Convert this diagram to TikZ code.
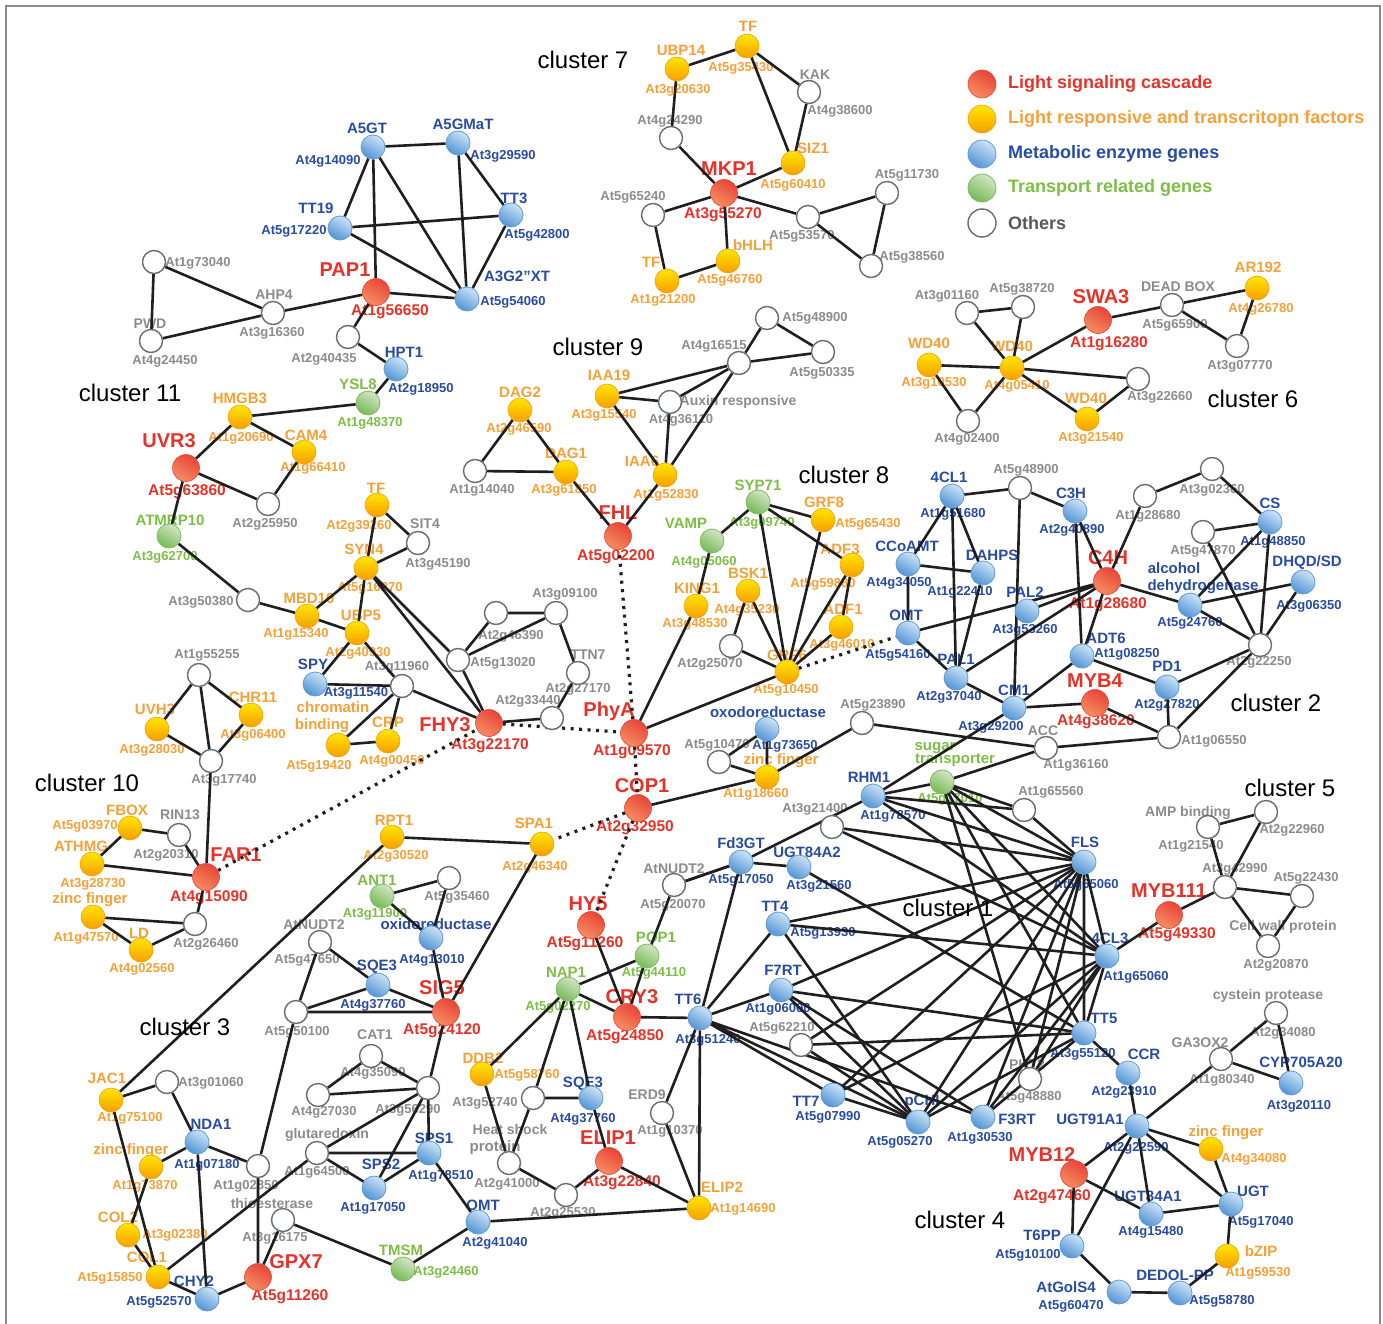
\documentclass[tikz,border=0pt]{standalone}
\usepackage{fontspec}
\setmainfont{Liberation Sans}
\usepackage{tikz}
\usepackage{color}

\definecolor{sigtxt}{RGB}{232,50,40}
\definecolor{lrftxt}{RGB}{247,160,55}
\definecolor{mettxt}{RGB}{40,75,165}
\definecolor{trptxt}{RGB}{125,190,70}
\definecolor{othtxt}{RGB}{140,140,140}
\definecolor{sigtop}{RGB}{232,68,56}
\definecolor{sigbot}{RGB}{246,142,98}
\definecolor{lrftop}{RGB}{255,230,0}
\definecolor{lrfbot}{RGB}{246,158,0}
\definecolor{mettop}{RGB}{205,228,247}
\definecolor{metbot}{RGB}{82,148,212}
\definecolor{metrim}{RGB}{95,155,215}
\definecolor{trptop}{RGB}{210,230,198}
\definecolor{trpbot}{RGB}{118,186,84}
\definecolor{trprim}{RGB}{130,185,100}
\definecolor{othrim}{RGB}{100,110,115}

\pgfdeclarelayer{bg}
\pgfdeclarelayer{lbl}
\pgfdeclarelayer{edg}
\pgfsetlayers{bg,lbl,edg,main}

% node with name and id
\newcommand{\gene}[7]{%
  \node[#1] (#2) at (#3) {};
  \begin{pgfonlayer}{lbl}
    \node[#1 nm] at (#4) {#5};
    \node[#1 id] at (#6) {#7};
  \end{pgfonlayer}}
% node with id only
\newcommand{\gid}[5]{%
  \node[#1] (#2) at (#3) {};
  \begin{pgfonlayer}{lbl}
    \node[#1 id] at (#4) {#5};
  \end{pgfonlayer}}

\begin{document}
\begin{tikzpicture}[x=1pt,y=-1pt,
  every node/.style={inner sep=0pt},
  sig/.style={circle,minimum size=27pt,draw=sigtop,line width=0.6pt,top color=sigtop,bottom color=sigbot,shading angle=-30},
  lrf/.style={circle,minimum size=24pt,draw=lrfbot,line width=0.6pt,top color=lrftop,bottom color=lrfbot},
  met/.style={circle,minimum size=24pt,draw=metrim,line width=0.8pt,top color=mettop,bottom color=metbot,shading angle=-30},
  trp/.style={circle,minimum size=24pt,draw=trprim,line width=0.8pt,top color=trptop,bottom color=trpbot,shading angle=-30},
  oth/.style={circle,minimum size=23pt,draw=othrim,line width=1.4pt,fill=white},
  sig nm/.style={text=sigtxt,font=\fontsize{20}{22}\selectfont\bfseries},
  sig id/.style={text=sigtxt,font=\fontsize{15.5}{17}\selectfont\bfseries},
  lrf nm/.style={text=lrftxt,font=\fontsize{15}{17}\selectfont\bfseries},
  lrf id/.style={text=lrftxt,font=\fontsize{13}{15}\selectfont\bfseries},
  met nm/.style={text=mettxt,font=\fontsize{15}{17}\selectfont\bfseries},
  met id/.style={text=mettxt,font=\fontsize{13}{15}\selectfont\bfseries},
  trp nm/.style={text=trptxt,font=\fontsize{15}{17}\selectfont\bfseries},
  trp id/.style={text=trptxt,font=\fontsize{13}{15}\selectfont\bfseries},
  oth nm/.style={text=othtxt,font=\fontsize{14}{16}\selectfont\bfseries},
  oth id/.style={text=othtxt,font=\fontsize{13}{15}\selectfont\bfseries},
  clus/.style={font=\fontsize{24}{26}\selectfont},
  legtxt/.style={anchor=west,font=\fontsize{18}{20}\selectfont\bfseries},
  lnk/.style={line width=2.6pt,draw=black!88},
  dotlnk/.style={line width=3.2pt,draw=black!88,dash pattern=on 3pt off 5.5pt}]

\useasboundingbox (0,0) rectangle (1383,1324);
\begin{pgfonlayer}{bg}
\fill[white] (0,0) rectangle (1383,1324);
\draw[black!45,line width=1.3pt] (6,1324) -- (6,6) -- (1380,6) -- (1380,1324);
\end{pgfonlayer}

%% legend
\node[sig,minimum size=28pt] (lg1) at (982,84) {};
\node[lrf,minimum size=28pt] (lg2) at (982,119) {};
\node[met,minimum size=28pt] (lg3) at (982,154) {};
\node[trp,minimum size=28pt] (lg4) at (982,188) {};
\node[oth,minimum size=28pt] (lg5) at (982,223) {};
\node[legtxt,text=sigtxt] at (1008,84) {Light signaling cascade};
\node[legtxt,text=lrftxt] at (1008,119) {Light responsive and transcritopn factors};
\node[legtxt,text=mettxt] at (1008,154) {Metabolic enzyme genes};
\node[legtxt,text=trptxt] at (1008,188) {Transport related genes};
\node[legtxt,text=black!65] at (1008,223) {Others};

%% cluster labels
\node[clus] (c1) at (948,908) {cluster 1};
\node[clus] (c2) at (1276,703) {cluster 2};
\node[clus] (c3) at (185,1027) {cluster 3};
\node[clus] (c4) at (960,1220) {cluster 4};
\node[clus] (c5) at (1290,788) {cluster 5};
\node[clus] (c6) at (1253,399) {cluster 6};
\node[clus] (c7) at (583,60) {cluster 7};
\node[clus] (c8) at (844,475) {cluster 8};
\node[clus] (c9) at (598,347) {cluster 9};
\node[clus] (c10) at (87,783) {cluster 10};
\node[clus] (c11) at (130,393) {cluster 11};

%% anthocyanin group
\gene{met}{a5gt}{373,147}{367,128}{A5GT}{328,161}{At4g14090}
\gene{met}{a5gmat}{458,143}{463,124}{A5GMaT}{503,156}{At3g29590}
\gene{met}{tt19}{340,228}{316,208}{TT19}{294,231}{At5g17220}
\gene{met}{tt3}{511,215}{514,198}{TT3}{537,235}{At5g42800}
\gene{met}{a3g2xt}{467,299}{517,276}{A3G2”XT}{513,302}{At5g54060}
\gene{sig}{pap1}{376,292}{345,270}{PAP1}{390,312}{At1g56650}
\gid{oth}{g73040}{154,262}{198,263}{At1g73040}
\gene{oth}{pwd}{151,341}{150,324}{PWD}{165,361}{At4g24450}
\gene{oth}{ahp4}{273,313}{274,295}{AHP4}{272,333}{At3g16360}
\gid{oth}{g40435}{348,337}{324,359}{At2g40435}
\gene{met}{hpt1}{396,369}{404,352}{HPT1}{421,389}{At2g18950}
\gene{trp}{ysl8}{368,403}{358,384}{YSL8}{370,423}{At1g48370}

%% cluster 7
\gene{lrf}{ubp14}{677,69}{681,50}{UBP14}{678,90}{At3g20630}
\gene{lrf}{tfa}{747,46}{748,26}{TF}{741,68}{At5g35430}
\gene{oth}{kak}{809,92}{815,75}{KAK}{840,111}{At4g38600}
\gid{oth}{g24290}{671,138}{670,121}{At4g24290}
\gene{lrf}{siz1}{793,163}{813,148}{SIZ1}{793,185}{At5g60410}
\gene{sig}{mkp1}{724,193}{729,169}{MKP1}{723,215}{At3g55270}
\gid{oth}{g65240}{653,215}{633,197}{At5g65240}
\gid{oth}{g53570}{808,217}{802,236}{At5g53570}
\gid{oth}{g11730}{887,193}{907,175}{At5g11730}
\gid{oth}{g38560}{871,266}{912,257}{At5g38560}
\gene{lrf}{bhlh}{728,261}{753,245}{bHLH}{730,280}{At5g46760}
\gene{lrf}{tfb}{667,281}{651,262}{TF}{663,300}{At1g21200}

%% cluster 9
\gid{oth}{g48900}{767,318}{815,318}{At5g48900}
\gid{oth}{g16515}{739,363}{714,346}{At4g16515}
\gid{oth}{g50335}{823,352}{822,373}{At5g50335}
\gene{lrf}{iaa19}{607,396}{609,375}{IAA19}{604,415}{At3g15540}
\gene{oth}{auxin}{670,402}{738,402}{Auxin responsive}{681,420}{At4g36110}
\gene{lrf}{dag2}{520,410}{520,392}{DAG2}{519,429}{At2g46590}
\gid{oth}{g14040}{475,471}{482,490}{At1g14040}
\gene{lrf}{dag1}{566,472}{566,453}{DAG1}{564,490}{At3g61850}
\gene{lrf}{iaa6}{665,475}{642,461}{IAA6}{666,495}{At1g52830}
\gene{sig}{fhl}{618,536}{618,513}{FHL}{616,557}{At5g02200}

%% cluster 6
\gid{oth}{g01160}{967,313}{947,296}{At3g01160}
\gid{oth}{g38720}{1023,307}{1022,289}{At5g38720}
\gene{sig}{swa3}{1098,320}{1101,297}{SWA3}{1109,344}{At1g16280}
\gene{oth}{deadbox}{1172,305}{1178,287}{DEAD BOX}{1175,325}{At5g65900}
\gene{lrf}{ar192}{1257,288}{1258,267}{AR192}{1261,309}{At4g26780}
\gid{oth}{g07770}{1237,346}{1240,366}{At3g07770}
\gene{lrf}{wda}{929,365}{929,343}{WD40}{934,383}{At3g10530}
\gene{lrf}{wdb}{1012,368}{1012,346}{WD40}{1017,386}{At4g05410}
\gid{oth}{g02400}{968,421}{967,439}{At4g02400}
\gene{lrf}{wdc}{1087,419}{1086,398}{WD40}{1091,438}{At3g21540}
\gid{oth}{g22660}{1138,379}{1160,397}{At3g22660}

%% cluster 2
\gid{oth}{g48900b}{1020,488}{1026,470}{At5g48900}
\gene{met}{cl1}{952,496}{949,477}{4CL1}{953,514}{At1g51680}
\gene{met}{c3h}{1075,511}{1071,493}{C3H}{1072,530}{At2g40890}
\gid{oth}{g28680}{1145,496}{1148,516}{At1g28680}
\gid{oth}{g02360}{1212,469}{1212,490}{At3g02360}
\gene{met}{cs}{1270,522}{1270,503}{CS}{1273,542}{At1g48850}
\gid{oth}{g47870}{1203,532}{1203,551}{At5g47870}
\gene{sig}{c4h}{1107,581}{1108,558}{C4H}{1108,605}{At1g28680}
\gene{met}{dahps}{983,573}{992,555}{DAHPS}{960,592}{At1g22410}
\gene{met}{ccoamt}{908,564}{907,546}{CCoAMT}{899,583}{At4g34050}
\gene{met}{adh}{1190,605}{1174,568}{alcohol}{1190,623}{At5g24760}
\gene{met}{dhqd}{1303,582}{1307,563}{DHQD/SD}{1309,606}{At3g06350}
\gene{met}{pal2}{1027,611}{1025,592}{PAL2}{1025,630}{At3g53260}
\gene{met}{adt6}{1082,656}{1106,638}{ADT6}{1127,654}{At1g08250}
\gid{oth}{g22250}{1260,645}{1259,662}{At2g22250}
\gene{met}{omtb}{908,633}{906,615}{OMT}{898,655}{At5g54160}
\gene{met}{pal1}{956,678}{956,659}{PAL1}{949,697}{At2g37040}
\gene{met}{cm1}{1014,708}{1014,690}{CM1}{991,727}{At3g29200}
\gene{sig}{myb4}{1095,703}{1095,681}{MYB4}{1096,722}{At4g38620}
\gene{met}{pd1}{1167,687}{1167,666}{PD1}{1167,705}{At2g27820}
\gid{oth}{g06550}{1169,737}{1214,741}{At1g06550}
\gene{oth}{acc}{1046,748}{1043,731}{ACC}{1076,765}{At1g36160}

%% cluster 8
\gene{trp}{syp71}{758,502}{758,485}{SYP71}{762,523}{At3g09740}
\gene{trp}{vamp}{712,541}{686,523}{VAMP}{704,562}{At4g05060}
\gene{lrf}{grf8}{823,520}{824,502}{GRF8}{868,524}{At5g65430}
\gene{lrf}{adf3}{852,565}{840,549}{ADF3}{823,584}{At5g59880}
\gene{lrf}{bsk1}{748,591}{748,573}{BSK1}{747,610}{At4g35230}
\gene{lrf}{king1}{696,606}{697,588}{KING1}{695,624}{At3g48530}
\gene{lrf}{adf1}{841,627}{843,609}{ADF1}{842,645}{At3g46010}
\gid{oth}{g25070}{731,646}{710,664}{At2g25070}
\gene{lrf}{grf6}{787,672}{787,655}{GRF6}{786,690}{At5g10450}
\gene{met}{oxo}{767,729}{768,712}{oxodoreductase}{785,746}{At1g73650}
\gid{oth}{g10470}{719,762}{717,745}{At5g10470}
\gene{lrf}{zfa}{767,777}{781,761}{zinc finger}{756,794}{At1g18660}
\gid{oth}{g23890}{862,723}{873,705}{At5g23890}

%% light signaling core
\gid{oth}{g09100}{556,613}{565,594}{At3g09100}
\gid{oth}{g46390}{496,613}{511,636}{At2g46390}
\gid{oth}{g13020}{458,660}{503,663}{At5g13020}
\gene{oth}{ttn7}{578,673}{588,655}{TTN7}{578,689}{At2g27170}
\gid{oth}{g33440}{552,718}{528,701}{At2g33440}
\gene{sig}{fhy3}{489,723}{445,725}{FHY3}{490,746}{At3g22170}
\gene{sig}{phya}{634,733}{609,711}{PhyA}{632,752}{At1g09570}
\gene{sig}{cop1}{638,808}{642,786}{COP1}{635,828}{At2g32950}
\gene{lrf}{spa1}{542,844}{534,823}{SPA1}{535,867}{At2g46340}
\gene{sig}{hy5}{591,925}{588,904}{HY5}{585,944}{At5g11260}

%% cluster 1
\gene{met}{rhm1}{873,796}{869,777}{RHM1}{893,816}{At1g78570}
\gid{oth}{g21400}{832,827}{815,809}{At3g21400}
\gene{trp}{sugar}{942,782}{935,748}{sugar}{950,799}{At5g17010}
\gid{oth}{g65560}{1024,810}{1051,792}{At1g65560}
\gene{met}{fd3gt}{741,862}{741,843}{Fd3GT}{741,880}{At5g17050}
\gene{met}{ugt84a2}{799,867}{807,852}{UGT84A2}{819,886}{At3g21560}
\gene{oth}{nudt2b}{674,885}{674,869}{AtNUDT2}{673,905}{At5g20070}
\gene{met}{tt4}{778,924}{775,906}{TT4}{823,933}{At5g13930}
\gene{met}{fls}{1084,862}{1085,842}{FLS}{1086,885}{At5g65060}
\gene{met}{cl3}{1107,956}{1110,938}{4CL3}{1136,977}{At1g65060}
\gene{met}{f7rt}{781,990}{783,970}{F7RT}{778,1009}{At1g06000}
\gene{met}{tt6}{700,1018}{688,999}{TT6}{708,1040}{At3g51240}
\gid{oth}{g62210}{801,1045}{782,1028}{At5g62210}
\gene{met}{tt7}{833,1095}{806,1101}{TT7}{828,1117}{At5g07990}
\gene{met}{pchi}{918,1122}{922,1102}{pCHI}{900,1142}{At5g05270}
\gene{met}{f3rt}{983,1117}{1017,1119}{F3RT}{980,1138}{At1g30530}
\gene{oth}{pkt2}{1030,1079}{1027,1065}{PKT2}{1029,1097}{At5g48880}
\gene{met}{tt5}{1084,1033}{1104,1018}{TT5}{1083,1054}{At3g55120}

%% cluster 5
\gene{oth}{amp}{1208,827}{1188,813}{AMP binding}{1191,846}{At1g21540}
\gid{oth}{g22960}{1266,812}{1292,830}{At2g22960}
\gid{oth}{g42990}{1225,887}{1235,869}{At3g42990}
\gid{oth}{g22430}{1302,896}{1306,878}{At5g22430}
\gene{sig}{myb111}{1169,915}{1169,891}{MYB111}{1177,935}{At5g49330}
\gene{oth}{cellwall}{1268,946}{1283,927}{Cell wall protein}{1276,965}{At2g20870}

%% cluster 4
\gene{met}{ccr}{1128,1073}{1144,1054}{CCR}{1124,1092}{At2g23910}
\gene{oth}{cyst}{1276,1013}{1268,996}{cystein protease}{1283,1033}{At2g34080}
\gene{oth}{ga3ox2}{1221,1059}{1200,1043}{GA3OX2}{1222,1080}{At1g80340}
\gene{met}{cyp}{1291,1083}{1301,1062}{CYP705A20}{1299,1106}{At3g20110}
\gene{met}{ugt91}{1137,1126}{1090,1119}{UGT91A1}{1136,1148}{At2g22590}
\gene{lrf}{zfd}{1211,1149}{1226,1133}{zinc finger}{1254,1159}{At4g34080}
\gene{sig}{myb12}{1074,1174}{1042,1155}{MYB12}{1052,1197}{At2g47460}
\gene{met}{ugt84a1}{1151,1214}{1148,1196}{UGT84A1}{1151,1232}{At4g15480}
\gene{met}{ugt}{1231,1204}{1253,1191}{UGT}{1261,1222}{At5g17040}
\gene{met}{t6pp}{1072,1246}{1042,1235}{T6PP}{1028,1255}{At5g10100}
\gene{lrf}{bzip}{1227,1256}{1261,1251}{bZIP}{1258,1273}{At1g59530}
\gene{met}{golS}{1119,1292}{1066,1287}{AtGolS4}{1071,1306}{At5g60470}
\gene{met}{dedol}{1180,1293}{1175,1275}{DEDOL-PP}{1222,1301}{At5g58780}

%% cluster 11
\gene{lrf}{hmgb3}{240,417}{240,398}{HMGB3}{241,438}{At1g20690}
\gene{sig}{uvr3}{186,468}{169,441}{UVR3}{187,492}{At5g63860}
\gene{lrf}{cam4}{304,452}{306,435}{CAM4}{313,468}{At1g66410}
\gid{oth}{g25950}{268,504}{265,524}{At2g25950}
\gene{trp}{atmrp10}{169,536}{170,520}{ATMRP10}{165,557}{At3g62700}
\gene{lrf}{tfc}{377,505}{376,488}{TF}{359,526}{At2g39260}
\gene{oth}{sit4}{418,543}{425,524}{SIT4}{438,564}{At3g45190}
\gene{lrf}{syn4}{366,568}{364,549}{SYN4}{370,588}{At5g16270}
\gid{oth}{g50380}{248,600}{201,602}{At3g50380}
\gene{lrf}{mbd10}{307,616}{309,598}{MBD10}{296,634}{At1g15340}
\gene{lrf}{ubp5}{357,633}{361,615}{UBP5}{358,653}{At2g40930}
\gene{met}{spy}{315,684}{313,664}{SPY}{356,693}{At3g11540}
\gid{oth}{g11960}{402,686}{397,667}{At3g11960}
\gene{lrf}{chrom}{338,745}{333,707}{chromatin}{319,766}{At5g19420}
\gene{lrf}{crp}{388,741}{388,722}{CRP}{392,761}{At4g00450}

%% cluster 10
\gid{oth}{g55255}{199,675}{207,655}{At1g55255}
\gene{lrf}{uvh3}{157,729}{155,709}{UVH3}{152,750}{At3g28030}
\gene{lrf}{chr11}{251,715}{253,697}{CHR11}{253,735}{At3g06400}
\gid{oth}{g17740}{211,761}{224,780}{At3g17740}
\gene{lrf}{fbox}{130,828}{127,810}{FBOX}{85,826}{At5g03970}
\gene{oth}{rin13}{179,835}{180,815}{RIN13}{166,855}{At2g20310}
\gene{lrf}{athmg}{92,864}{81,846}{ATHMG}{93,884}{At3g28730}
\gene{sig}{far1}{206,877}{236,855}{FAR1}{209,898}{At4g15090}
\gene{lrf}{zfb}{93,917}{90,900}{zinc finger}{86,938}{At1g47570}
\gene{lrf}{ld}{141,950}{139,933}{LD}{142,969}{At4g02560}
\gid{oth}{g26460}{195,924}{206,944}{At2g26460}

%% cluster 3
\gene{lrf}{rpt1}{392,837}{394,820}{RPT1}{396,856}{At2g30520}
\gene{trp}{ant1}{382,896}{377,880}{ANT1}{375,914}{At3g11900}
\gid{oth}{g35460}{449,878}{457,897}{At5g35460}
\gene{met}{oxi}{431,938}{436,924}{oxidoreductase}{432,960}{At4g13010}
\gene{oth}{nudt2a}{320,942}{314,925}{AtNUDT2}{307,960}{At5g47650}
\gene{met}{sqe3a}{378,985}{377,967}{SQE3}{373,1005}{At4g37760}
\gene{sig}{sig5}{446,1012}{442,988}{SIG5}{442,1031}{At5g24120}
\gid{oth}{g50100}{296,1012}{297,1032}{At5g50100}
\gene{oth}{cat1}{371,1056}{375,1035}{CAT1}{373,1073}{At4g35090}
\gid{oth}{g27030}{318,1095}{324,1112}{At4g27030}
\gid{oth}{g56290}{428,1088}{408,1110}{At3g56290}
\gene{lrf}{jac1}{111,1100}{107,1078}{JAC1}{130,1118}{At1g75100}
\gid{oth}{g01060}{167,1082}{211,1083}{At3g01060}
\gene{met}{nda1}{197,1142}{211,1124}{NDA1}{207,1165}{At1g07180}
\gene{lrf}{zfc}{151,1167}{131,1151}{zinc finger}{145,1186}{At1g73870}
\gid{oth}{g02850}{258,1166}{246,1186}{At1g02850}
\gene{oth}{glut}{317,1153}{327,1135}{glutaredoxin}{317,1172}{At1g64500}
\gene{met}{sps1}{429,1153}{434,1138}{SPS1}{441,1176}{At1g78510}
\gene{met}{sps2}{374,1188}{381,1164}{SPS2}{373,1208}{At1g17050}
\gene{oth}{thio}{283,1220}{272,1203}{thioesterase}{275,1238}{At3g16175}
\gene{lrf}{col2}{128,1235}{118,1217}{COL2}{175,1235}{At3g02380}
\gene{lrf}{col1}{158,1277}{147,1257}{COL1}{110,1278}{At5g15850}
\gene{met}{chy2}{207,1299}{194,1281}{CHY2}{159,1302}{At5g52570}
\gene{sig}{gpx7}{258,1277}{296,1262}{GPX7}{290,1297}{At5g11260}
\gene{trp}{tmsm}{403,1269}{401,1250}{TMSM}{446,1272}{At3g24460}
\gene{met}{omtc}{478,1222}{483,1205}{OMT}{495,1243}{At2g41040}
\gene{lrf}{ddb2}{482,1074}{483,1058}{DDB2}{527,1075}{At5g58760}
\gene{trp}{nap1}{568,989}{566,972}{NAP1}{558,1007}{At5g02270}
\gene{trp}{pop1}{647,956}{656,937}{POP1}{654,973}{At5g44110}
\gene{sig}{cry3}{627,1017}{632,997}{CRY3}{625,1037}{At5g24850}
\gid{oth}{g52740}{533,1098}{485,1103}{At3g52740}
\gene{met}{sqe3b}{591,1098}{583,1084}{SQE3}{583,1119}{At4g37760}
\gene{oth}{erd9}{662,1113}{647,1095}{ERD9}{670,1131}{At1g10370}
\gene{oth}{hsp}{509,1163}{510,1129}{Heat shock}{507,1184}{At2g41000}
\gene{sig}{elip1}{609,1161}{608,1138}{ELIP1}{622,1183}{At3g22840}
\gid{oth}{g25530}{566,1195}{563,1213}{At2g25530}
\gene{lrf}{elip2}{699,1208}{722,1187}{ELIP2}{743,1209}{At1g14690}

%% second lines of two-line names
\begin{pgfonlayer}{lbl}
\node[trp nm] at (955,760) {transporter};
\node[met nm] at (1203,587) {dehydrogenase};
\node[lrf nm] at (322,726) {binding};
\node[oth nm,font=\fontsize{15}{17}\selectfont\bfseries] at (495,1148) {protein};
\end{pgfonlayer}

\begin{pgfonlayer}{edg}
%% anthocyanin group
\draw[lnk] (a5gt) -- (a5gmat) (a5gt) -- (tt19) (a5gt) -- (pap1) (a5gt) -- (a3g2xt);
\draw[lnk] (a5gmat) -- (tt3) (a5gmat) -- (a3g2xt) (tt19) -- (tt3) (tt19) -- (a3g2xt);
\draw[lnk] (pap1) -- (a3g2xt) (pap1) -- (ahp4) (pap1) -- (g40435) (tt3) -- (a3g2xt);
\draw[lnk] (g73040) -- (ahp4) (g73040) -- (pwd) (pwd) -- (ahp4);
\draw[lnk] (g40435) -- (hpt1) (hpt1) -- (ysl8) (ysl8) -- (hmgb3);
%% cluster 11
\draw[lnk] (hmgb3) -- (uvr3) (hmgb3) -- (cam4) (cam4) -- (g25950) (uvr3) -- (g25950);
\draw[lnk] (uvr3) -- (atmrp10) (atmrp10) -- (g50380) (g50380) -- (mbd10);
\draw[lnk] (mbd10) -- (ubp5) (mbd10) -- (syn4) (syn4) -- (tfc) (syn4) -- (sit4) (tfc) -- (sit4);
\draw[lnk] (syn4) -- (ubp5) (syn4) -- (fhy3) (syn4) -- (g13020) (ubp5) -- (spy) (ubp5) -- (g11960);
\draw[lnk] (spy) -- (g11960) (g11960) -- (chrom) (g11960) -- (crp) (g11960) -- (fhy3) (chrom) -- (crp);
%% core
\draw[lnk] (g13020) -- (fhy3) (g13020) -- (g46390) (g13020) -- (g09100) (g46390) -- (g09100);
\draw[lnk] (g09100) -- (ttn7) (ttn7) -- (g33440) (g33440) -- (fhy3);
\draw[dotlnk] (fhy3) -- (phya);
\draw[dotlnk] (far1) -- (fhy3);
\draw[dotlnk] (phya) -- (fhl);
\draw[dotlnk] (phya) -- (cop1);
\draw[dotlnk] (cop1) -- (hy5);
\draw[dotlnk] (cop1) -- (spa1);
\draw[dotlnk] (grf6) -- (omtb);
\draw[lnk] (phya) -- (king1) (phya) -- (grf6);
%% cluster 9
\draw[lnk] (fhl) -- (dag1) (fhl) -- (iaa6) (dag1) -- (dag2) (dag1) -- (g14040) (dag2) -- (g14040);
\draw[lnk] (iaa6) -- (iaa19) (iaa6) -- (auxin) (iaa6) -- (g16515) (iaa19) -- (auxin) (iaa19) -- (g16515);
\draw[lnk] (auxin) -- (g16515) (g16515) -- (g48900) (g16515) -- (g50335) (g48900) -- (g50335);
%% cluster 7
\draw[lnk] (ubp14) -- (tfa) (ubp14) -- (g24290) (tfa) -- (kak) (tfa) -- (siz1) (kak) -- (siz1);
\draw[lnk] (g24290) -- (mkp1) (siz1) -- (mkp1) (mkp1) -- (g65240) (mkp1) -- (bhlh) (mkp1) -- (g53570);
\draw[lnk] (g65240) -- (tfb) (tfb) -- (bhlh) (g53570) -- (g11730) (g53570) -- (g38560) (g11730) -- (g38560);
%% cluster 6
\draw[lnk] (g01160) -- (g38720) (g01160) -- (wdb) (g38720) -- (wdb) (wdb) -- (swa3) (swa3) -- (deadbox);
\draw[lnk] (deadbox) -- (ar192) (deadbox) -- (g07770) (ar192) -- (g07770);
\draw[lnk] (wda) -- (wdb) (wda) -- (g02400) (g02400) -- (wdb) (wdb) -- (g22660) (wdb) -- (wdc) (wdc) -- (g22660);
%% cluster 8
\draw[lnk] (grf6) -- (syp71) (grf6) -- (bsk1) (grf6) -- (g25070) (grf6) -- (grf8) (grf6) -- (adf3) (grf6) -- (adf1);
\draw[lnk] (syp71) -- (vamp) (syp71) -- (grf8) (syp71) -- (adf3) (vamp) -- (king1) (bsk1) -- (g25070) (adf3) -- (adf1);
\draw[lnk] (oxo) -- (zfa) (oxo) -- (g10470) (g10470) -- (zfa) (zfa) -- (cop1) (zfa) -- (g23890);
%% cluster 2
\draw[lnk] (cl1) -- (g48900b) (cl1) -- (ccoamt) (cl1) -- (dahps) (cl1) -- (pal1);
\draw[lnk] (g48900b) -- (c3h) (g48900b) -- (cm1) (ccoamt) -- (dahps) (ccoamt) -- (omtb);
\draw[lnk] (c3h) -- (c4h) (c3h) -- (adt6) (g28680) -- (c4h) (g28680) -- (g02360) (g02360) -- (cs);
\draw[lnk] (cs) -- (g47870) (cs) -- (g22250) (cs) -- (adh) (g47870) -- (g22250);
\draw[lnk] (adh) -- (dhqd) (adh) -- (g22250) (dhqd) -- (g22250) (adh) -- (c4h);
\draw[lnk] (c4h) -- (pal2) (c4h) -- (omtb) (c4h) -- (pal1) (c4h) -- (adt6);
\draw[lnk] (dahps) -- (pal1) (omtb) -- (pal1) (pal1) -- (cm1) (adt6) -- (pd1) (adt6) -- (cm1);
\draw[lnk] (pd1) -- (g22250) (pd1) -- (g06550) (myb4) -- (cm1) (myb4) -- (g06550);
\draw[lnk] (g06550) -- (g22250) (g06550) -- (acc) (acc) -- (sugar) (acc) -- (g23890) (cm1) -- (rhm1);
%% cluster 1
\draw[lnk] (rhm1) -- (sugar) (rhm1) -- (fls) (rhm1) -- (cl3) (rhm1) -- (g65560);
\draw[lnk] (sugar) -- (g65560) (sugar) -- (fls) (sugar) -- (cl3) (sugar) -- (tt5) (sugar) -- (pkt2);
\draw[lnk] (g65560) -- (fls) (g21400) -- (fls) (g21400) -- (cl3);
\draw[lnk] (fd3gt) -- (ugt84a2) (fd3gt) -- (rhm1) (fd3gt) -- (tt6) (fd3gt) -- (nudt2b) (ugt84a2) -- (tt5);
\draw[lnk] (tt4) -- (fls) (tt4) -- (cl3) (tt4) -- (tt6) (tt4) -- (pchi);
\draw[lnk] (f7rt) -- (tt6) (f7rt) -- (fls) (f7rt) -- (pchi) (f7rt) -- (f3rt) (f7rt) -- (tt5);
\draw[lnk] (g62210) -- (fls) (g62210) -- (pchi) (g62210) -- (tt5);
\draw[lnk] (tt6) -- (pchi) (tt6) -- (tt7) (tt6) -- (f3rt);
\draw[lnk] (tt7) -- (pchi) (tt7) -- (fls) (tt7) -- (cl3);
\draw[lnk] (pchi) -- (fls) (pchi) -- (cl3) (pchi) -- (tt5);
\draw[lnk] (f3rt) -- (fls) (f3rt) -- (tt5) (f3rt) -- (cl3) (pkt2) -- (fls) (pkt2) -- (cl3);
\draw[lnk] (tt5) -- (fls) (tt5) -- (cl3) (fls) -- (cl3);
%% cluster 5
\draw[lnk] (amp) -- (g22960) (amp) -- (g42990) (g22960) -- (g42990) (g42990) -- (myb111);
\draw[lnk] (g42990) -- (g22430) (g42990) -- (cellwall) (g22430) -- (cellwall) (myb111) -- (cl3);
%% cluster 4
\draw[lnk] (tt5) -- (ccr) (ccr) -- (ugt91) (ga3ox2) -- (ugt91) (ga3ox2) -- (cyst) (ga3ox2) -- (cyp) (cyst) -- (cyp);
\draw[lnk] (ugt91) -- (zfd) (ugt91) -- (myb12) (ugt91) -- (ugt84a1) (ugt91) -- (ugt) (ugt91) -- (t6pp);
\draw[lnk] (myb12) -- (t6pp) (myb12) -- (ugt84a1) (zfd) -- (ugt) (ugt84a1) -- (ugt);
\draw[lnk] (ugt) -- (bzip) (bzip) -- (dedol) (dedol) -- (golS) (golS) -- (t6pp);
%% cluster 10
\draw[lnk] (g55255) -- (uvh3) (g55255) -- (chr11) (g55255) -- (g17740) (uvh3) -- (g17740) (chr11) -- (g17740);
\draw[lnk] (g17740) -- (far1) (fbox) -- (rin13) (fbox) -- (athmg) (rin13) -- (far1) (athmg) -- (far1);
\draw[lnk] (zfb) -- (g26460) (zfb) -- (ld) (ld) -- (g26460) (g26460) -- (far1);
%% cluster 3
\draw[lnk] (spa1) -- (rpt1) (spa1) -- (sig5) (rpt1) -- (jac1);
\draw[lnk] (ant1) -- (g35460) (ant1) -- (oxi) (g35460) -- (oxi) (oxi) -- (sig5);
\draw[lnk] (nudt2a) -- (g50100) (nudt2a) -- (sqe3a) (sqe3a) -- (g50100) (sqe3a) -- (sig5) (g50100) -- (sig5);
\draw[lnk] (g50100) -- (g02850) (sig5) -- (g56290) (cat1) -- (g27030) (cat1) -- (g56290) (g27030) -- (g56290);
\draw[lnk] (g56290) -- (glut) (g56290) -- (sps2) (g56290) -- (sps1) (glut) -- (sps1) (glut) -- (sps2) (glut) -- (col1);
\draw[lnk] (sps1) -- (sps2) (sps1) -- (omtc) (jac1) -- (g01060) (jac1) -- (col1) (g01060) -- (nda1);
\draw[lnk] (zfc) -- (nda1) (zfc) -- (col2) (col2) -- (col1) (nda1) -- (g02850) (nda1) -- (chy2);
\draw[lnk] (g02850) -- (gpx7) (col1) -- (chy2) (chy2) -- (gpx7) (gpx7) -- (thio) (thio) -- (tmsm) (tmsm) -- (omtc);
\draw[lnk] (omtc) -- (elip2) (ddb2) -- (nap1) (ddb2) -- (hsp) (g52740) -- (nap1) (g52740) -- (sqe3b) (g52740) -- (hsp);
\draw[lnk] (nap1) -- (sqe3b) (sqe3b) -- (elip1) (nap1) -- (cry3) (nap1) -- (pop1);
\draw[lnk] (hsp) -- (g25530) (g25530) -- (elip1) (elip1) -- (elip2) (erd9) -- (elip2) (erd9) -- (tt6) (tt6) -- (elip2);
\draw[lnk] (hy5) -- (cry3) (pop1) -- (cry3) (pop1) -- (nudt2b) (cry3) -- (tt6) (nudt2b) -- (fd3gt);
\end{pgfonlayer}

\end{tikzpicture}
\end{document}
